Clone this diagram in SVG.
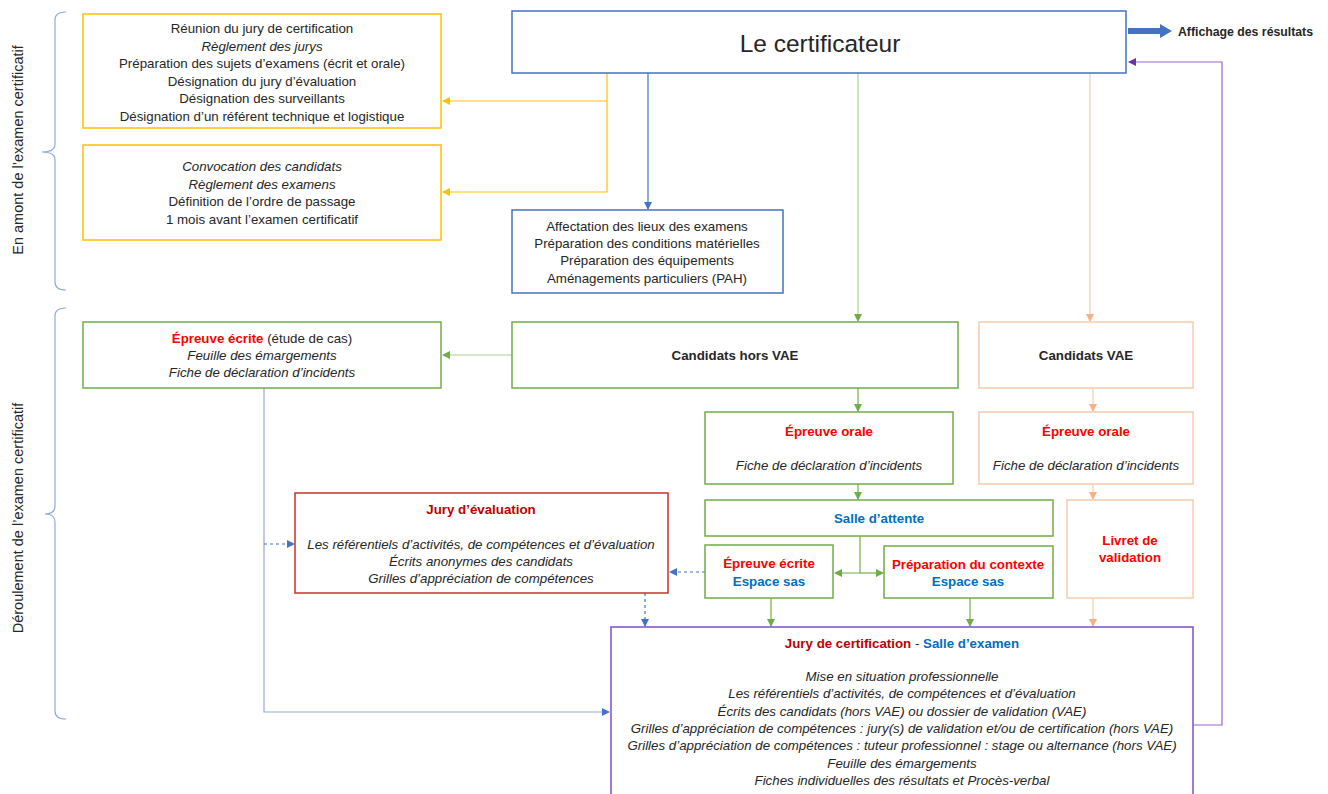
<svg xmlns="http://www.w3.org/2000/svg" width="1328" height="794" viewBox="0 0 1328 794">
<defs>
<style>
text{font-family:"Liberation Sans",Arial,sans-serif;font-size:13.3px;fill:#262626;text-anchor:middle}
.i{font-style:italic}
.b{font-weight:bold}
.red{fill:#FF0000;font-weight:bold}
.dred{fill:#C00000;font-weight:bold}
.blu{fill:#0070C0;font-weight:bold}
.box{fill:#fff;stroke-width:1.5}
.y{stroke:#FFC000}
.bl{stroke:#4472C4}
.g{stroke:#70AD47}
.o{stroke:#F8CBAD}
.r{stroke:#C9302C}
.p{stroke:#7F4FC9}
.c{fill:none;stroke-width:1.2}
.br{fill:none;stroke:#8FAADC;stroke-width:1.2}
.rot{font-size:14.5px}
</style>
<marker id="ay" markerWidth="8" markerHeight="8" refX="7" refY="4" orient="auto" markerUnits="userSpaceOnUse"><path d="M0,0L8,4L0,8z" fill="#FFC000"/></marker>
<marker id="ab" markerWidth="8" markerHeight="8" refX="7" refY="4" orient="auto" markerUnits="userSpaceOnUse"><path d="M0,0L8,4L0,8z" fill="#4472C4"/></marker>
<marker id="ag" markerWidth="8" markerHeight="8" refX="7" refY="4" orient="auto" markerUnits="userSpaceOnUse"><path d="M0,0L8,4L0,8z" fill="#70AD47"/></marker>
<marker id="ao" markerWidth="8" markerHeight="8" refX="7" refY="4" orient="auto" markerUnits="userSpaceOnUse"><path d="M0,0L8,4L0,8z" fill="#F4B183"/></marker>
<marker id="ap" markerWidth="8" markerHeight="8" refX="7" refY="4" orient="auto" markerUnits="userSpaceOnUse"><path d="M0,0L8,4L0,8z" fill="#7030A0"/></marker>
</defs>
<rect width="1328" height="794" fill="#fff"/>

<g id="phases">
<path class="br" d="M66,12 Q55,12 55,20 L55,144 Q55,152 42,152 Q55,152 55,160 L55,282 Q55,290 66,290"/>
<text class="rot" transform="translate(23,150) rotate(-90)">En amont de l’examen certificatif</text>
<path class="br" d="M66,308 Q55,308 55,316 L55,506 Q55,514 45,514 Q55,514 55,522 L55,711 Q55,719 66,719"/>
<text class="rot" transform="translate(23,518) rotate(-90)">Déroulement de l’examen certificatif</text>
</g>

<g id="connectors">
<path class="c y" d="M607,73 V192 H443" marker-end="url(#ay)"/>
<path class="c y" d="M607,101 H443" marker-end="url(#ay)"/>
<path class="c bl" d="M648,73 V209" marker-end="url(#ab)"/>
<path class="c" stroke="#A9D18E" d="M858,73 V321" marker-end="url(#ag)"/>
<path class="c" stroke="#F8CBAD" d="M1090,73 V321" marker-end="url(#ao)"/>
<path class="c" stroke="#A9D18E" d="M512,355 H443" marker-end="url(#ag)"/>
<path class="c g" d="M858,388 V411" marker-end="url(#ag)"/>
<path class="c o" d="M1093,388 V411" marker-end="url(#ao)"/>
<path class="c g" d="M858,484 V499" marker-end="url(#ag)"/>
<path class="c o" d="M1093,484 V499" marker-end="url(#ao)"/>
<path class="c g" d="M860,536 V573 H835" marker-end="url(#ag)"/>
<path class="c g" d="M860,573 H883" marker-end="url(#ag)"/>
<path class="c g" d="M771,598 V626" marker-end="url(#ag)"/>
<path class="c g" d="M970,598 V626" marker-end="url(#ag)"/>
<path class="c o" d="M1093,598 V626" marker-end="url(#ao)"/>
<path class="c" stroke="#8FAADC" d="M264,388 V712 H609" marker-end="url(#ab)"/>
<path class="c bl" stroke-dasharray="3,3" d="M264,544 H294" marker-end="url(#ab)"/>
<path class="c bl" stroke-dasharray="3,3" d="M705,572 H670" marker-end="url(#ab)"/>
<path class="c bl" stroke-dasharray="3,3" d="M645,593 V626" marker-end="url(#ab)"/>
<path class="c" stroke="#9966CC" d="M1193,725 H1222 V62 H1129" marker-end="url(#ap)"/>
<path d="M1128,28 H1160 V24 L1172,31 L1160,38 V34 H1128 Z" fill="#4472C4"/>
</g>

<g id="certificateur">
<rect class="box bl" x="512" y="11" width="614" height="62"/>
<text x="820" y="52" style="font-size:24.5px">Le certificateur</text>
</g>
<g id="affichage">
<text x="1178" y="36" class="b" style="text-anchor:start;font-size:12px" textLength="135" lengthAdjust="spacingAndGlyphs">Affichage des résultats</text>
</g>

<g id="jury-prep">
<rect class="box y" x="83" y="14" width="358" height="114"/>
<text x="262" y="33">Réunion du jury de certification</text>
<text x="262" y="51" class="i">Règlement des jurys</text>
<text x="262" y="68">Préparation des sujets d’examens (écrit et orale)</text>
<text x="262" y="86">Désignation du jury d’évaluation</text>
<text x="262" y="103">Désignation des surveillants</text>
<text x="262" y="121">Désignation d’un référent technique et logistique</text>
</g>

<g id="convocation">
<rect class="box y" x="83" y="145" width="358" height="95"/>
<text x="262" y="171" class="i">Convocation des candidats</text>
<text x="262" y="189" class="i">Règlement des examens</text>
<text x="262" y="206">Définition de l’ordre de passage</text>
<text x="262" y="224">1 mois avant l’examen certificatif</text>
</g>

<g id="affectation">
<rect class="box bl" x="512" y="210" width="271" height="83"/>
<text x="647" y="231">Affectation des lieux des examens</text>
<text x="647" y="248">Préparation des conditions  matérielles</text>
<text x="647" y="265">Préparation des équipements</text>
<text x="647" y="283">Aménagements particuliers (PAH)</text>
</g>

<g id="epreuve-ecrite">
<rect class="box g" x="83" y="322" width="358" height="66"/>
<text x="262" y="343"><tspan class="red">Épreuve écrite</tspan> (étude de cas)</text>
<text x="262" y="360" class="i">Feuille des émargements</text>
<text x="262" y="377" class="i">Fiche de déclaration d’incidents</text>
</g>

<g id="hors-vae">
<rect class="box g" x="512" y="322" width="446" height="66"/>
<text x="735" y="360" class="b">Candidats hors VAE</text>
</g>

<g id="vae">
<rect class="box o" x="979" y="322" width="214" height="66"/>
<text x="1086" y="360" class="b">Candidats VAE</text>
</g>

<g id="orale-hors">
<rect class="box g" x="705" y="412" width="248" height="72"/>
<text x="829" y="436" class="red">Épreuve orale</text>
<text x="829" y="470" class="i">Fiche de déclaration d’incidents</text>
</g>

<g id="orale-vae">
<rect class="box o" x="979" y="412" width="214" height="72"/>
<text x="1086" y="436" class="red">Épreuve orale</text>
<text x="1086" y="470" class="i">Fiche de déclaration d’incidents</text>
</g>

<g id="salle-attente">
<rect class="box g" x="705" y="500" width="348" height="36"/>
<text x="879" y="523" class="blu">Salle d’attente</text>
</g>

<g id="livret">
<rect class="box o" x="1067" y="500" width="126" height="98"/>
<text x="1130" y="545" class="red">Livret de</text>
<text x="1130" y="562" class="red">validation</text>
</g>

<g id="ecrite-sas">
<rect class="box g" x="705" y="545" width="128" height="53"/>
<text x="769" y="568" class="red">Épreuve écrite</text>
<text x="769" y="586" class="blu">Espace sas</text>
</g>

<g id="contexte-sas">
<rect class="box g" x="884" y="546" width="169" height="52"/>
<text x="968" y="569" class="red">Préparation du contexte</text>
<text x="968" y="586" class="blu">Espace sas</text>
</g>

<g id="jury-evaluation">
<rect class="box r" x="295" y="493" width="373" height="100"/>
<text x="481" y="514" class="dred">Jury d’évaluation</text>
<text x="481" y="549" class="i">Les référentiels d’activités, de compétences et d’évaluation</text>
<text x="481" y="566" class="i">Écrits anonymes des candidats</text>
<text x="481" y="583" class="i">Grilles d’appréciation de compétences</text>
</g>

<g id="jury-certification">
<rect class="box p" x="611" y="627" width="582" height="180"/>
<text x="902" y="648"><tspan class="dred">Jury de certification</tspan><tspan>  - </tspan><tspan class="blu">Salle d’examen</tspan></text>
<text x="902" y="681" class="i">Mise en situation professionnelle</text>
<text x="902" y="698" class="i">Les référentiels d’activités, de compétences et d’évaluation</text>
<text x="902" y="716" class="i">Écrits des candidats (hors VAE) ou dossier de validation (VAE)</text>
<text x="902" y="733" class="i">Grilles d’appréciation de compétences : jury(s) de validation et/ou de certification (hors VAE)</text>
<text x="902" y="750" class="i">Grilles d’appréciation de compétences : tuteur professionnel : stage ou alternance (hors VAE)</text>
<text x="902" y="768" class="i">Feuille des émargements</text>
<text x="902" y="785" class="i">Fiches individuelles des résultats et Procès-verbal</text>
</g>
</svg>
